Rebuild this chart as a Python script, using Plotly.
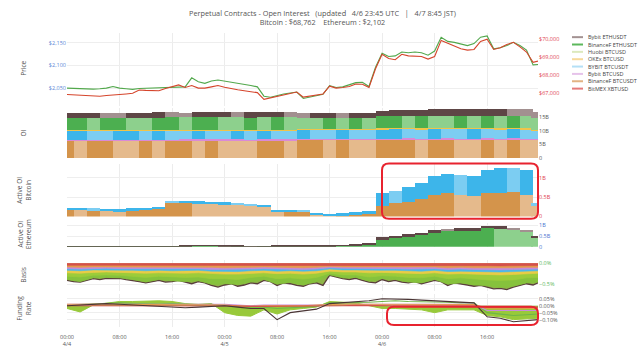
import pandas as pd
import plotly.graph_objects as go

# ---------------- time grids ----------------
START = "2024-04-04 00:00"
END = "2024-04-06 23:45"
hours_1h = [str(t) for t in pd.date_range(START, periods=72, freq="1h")] + [END]
hours_2h = [str(t) for t in pd.date_range(START, periods=36, freq="2h")] + [END]
tick_vals = [str(t) for t in pd.date_range(START, periods=9, freq="8h")]
tick_text = ["00:00<br>4/4", "08:00", "16:00", "00:00<br>4/5", "08:00", "16:00",
             "00:00<br>4/6", "08:00", "16:00"]

# ---------------- price (hourly) ----------------
eth_price = [2050.0, 2049.3, 2048.6, 2047.9, 2047.9, 2048.6, 2050.0, 2053.5, 2050.0, 2048.6,
             2047.2, 2049.3, 2050.0, 2049.3, 2050.0, 2052.1, 2052.8, 2053.5, 2052.8, 2072.7,
             2064.2, 2060.6, 2065.6, 2067.7, 2065.6, 2062.8, 2060.6, 2058.5, 2055.7, 2052.8,
             2032.3, 2030.1, 2034.4, 2037.2, 2039.4, 2041.5, 2027.3, 2030.1, 2034.4, 2036.5,
             2055.7, 2051.4, 2052.8, 2057.1, 2062.1, 2062.8, 2053.5, 2096.1, 2126.6, 2119.5,
             2120.9, 2129.4, 2128.0, 2129.4, 2128.0, 2122.4, 2131.6, 2162.1, 2152.9, 2150.7,
             2147.2, 2143.6, 2147.9, 2162.1, 2164.9, 2136.5, 2138.7, 2143.6, 2150.7, 2143.6,
             2133.7, 2101.1, 2102.0]
btc_price = [66911, 66893, 66875, 66857, 66839, 66821, 66857, 66875, 66911, 66946,
             66982, 67161, 67143, 67125, 67125, 67250, 67339, 67446, 67304, 67411,
             67268, 67268, 67339, 67411, 67321, 67232, 67179, 67125, 67054, 67018,
             66643, 66732, 66804, 66911, 67000, 67054, 66768, 66839, 66911, 66946,
             67375, 67268, 67304, 67357, 67500, 67482, 67304, 68339, 69143, 68911,
             68839, 69143, 69054, 69054, 69018, 68875, 69018, 69911, 69768, 69625,
             69446, 69375, 69411, 69857, 69982, 69411, 69500, 69679, 69804, 69554,
             69268, 68696, 68762]
eth_ticks = [2050, 2100, 2150]
eth_tick_text = ["$2,050", "$2,100", "$2,150"]
btc_ticks = [67000, 68000, 69000, 70000]
btc_tick_text = ["$67,000", "$68,000", "$69,000", "$70,000"]

# ---------------- open interest (billions, 2h) ----------------
oi_binf_btc = [6.3, 6.25, 6.3, 6.35, 6.3, 6.28, 6.32, 6.3, 6.35, 6.4,
               6.38, 6.42, 6.4, 6.38, 6.35, 6.4, 6.42, 6.38, 6.65, 6.7,
               6.68, 6.72, 6.7, 6.68, 6.7, 6.72, 6.75, 6.7, 6.72, 6.75,
               6.72, 6.7, 6.74, 6.72, 6.75, 6.7, 6.5]
oi_bybit_btc = [0.28, 0.28, 0.27, 0.28, 0.29, 0.28, 0.28, 0.27, 0.28, 0.28,
                0.29, 0.28, 0.28, 0.28, 0.27, 0.28, 0.28, 0.28, 0.29, 0.28,
                0.28, 0.28, 0.27, 0.28, 0.28, 0.29, 0.28, 0.28, 0.28, 0.29,
                0.28, 0.28, 0.28, 0.27, 0.28, 0.28, 0.27]
oi_bybit_usdt = [3.27, 3.3, 3.25, 3.22, 3.28, 3.3, 3.25, 3.3, 3.28, 3.25,
                 3.3, 3.28, 3.25, 3.3, 3.27, 3.3, 3.28, 3.25, 3.35, 3.32,
                 3.3, 3.35, 3.32, 3.3, 3.5, 3.55, 3.52, 3.5, 3.55, 3.52,
                 3.5, 3.55, 3.52, 3.5, 3.55, 3.5, 3.3]
oi_okex = [0.22, 0.22, 0.21, 0.22, 0.22, 0.23, 0.22, 0.22, 0.21, 0.22,
           0.22, 0.22, 0.23, 0.22, 0.22, 0.21, 0.22, 0.22, 0.22, 0.23,
           0.22, 0.22, 0.22, 0.21, 0.22, 0.22, 0.23, 0.22, 0.22, 0.22,
           0.21, 0.22, 0.22, 0.22, 0.23, 0.22, 0.2]
oi_binf_eth = [4.6, 4.62, 4.58, 4.6, 4.62, 4.58, 4.55, 4.6, 4.62, 4.58,
               4.6, 4.62, 4.58, 4.55, 4.6, 4.58, 4.62, 4.6, 4.1, 4.08,
               4.12, 4.05, 4.1, 4.08, 4.6, 4.62, 4.58, 4.62, 4.6, 4.58,
               4.62, 4.6, 4.65, 4.6, 4.62, 4.58, 4.3]
oi_bybit_eth = [1.8, 1.82, 1.85, 1.8, 1.78, 1.82, 1.85, 1.88, 1.85, 1.82,
                1.85, 1.88, 1.9, 1.85, 1.88, 1.9, 1.92, 1.88, 1.8, 1.82,
                1.85, 1.8, 1.82, 1.85, 1.95, 2.05, 2.15, 2.2, 2.3, 2.35,
                2.4, 2.45, 2.55, 2.6, 2.55, 2.5, 2.0]

# ---------------- active OI (billions, 2h) ----------------
act_btc_binf = [0.18, 0.17, 0.17, 0.16, 0.15, 0.16, 0.18, 0.2, 0.36, 0.37,
                0.34, 0.33, 0.31, 0.3, 0.29, 0.28, 0.14, 0.14, 0.15, 0.06,
                0.03, 0.04, 0.05, 0.07, 0.29, 0.35, 0.39, 0.46, 0.56, 0.61,
                0.58, 0.55, 0.61, 0.63, 0.65, 0.58, 0.3]
act_btc_bybit = [0.06, 0.06, 0.05, 0.05, 0.05, 0.06, 0.06, 0.06, 0.04, 0.05,
                 0.06, 0.06, 0.07, 0.06, 0.04, 0.04, 0.04, 0.04, 0.03, 0.03,
                 0.04, 0.05, 0.07, 0.07, 0.34, 0.32, 0.39, 0.43, 0.5, 0.51,
                 0.5, 0.51, 0.6, 0.63, 0.61, 0.63, 0.05]
act_eth_binf = [0.03, 0.03, 0.03, 0.03, 0.03, 0.03, 0.03, 0.04, 0.04, 0.05,
                0.06, 0.06, 0.05, 0.05, 0.04, 0.04, 0.05, 0.05, 0.05, 0.05,
                0.05, 0.06, 0.1, 0.12, 0.38, 0.44, 0.5, 0.56, 0.67, 0.74,
                0.76, 0.77, 0.89, 0.86, 0.8, 0.74, 0.44]
act_eth_bybit = [0.01, 0.01, 0.01, 0.01, 0.01, 0.01, 0.01, 0.01, 0.01, 0.01,
                 0.01, 0.01, 0.01, 0.01, 0.01, 0.01, 0.01, 0.01, 0.01, 0.01,
                 0.02, 0.02, 0.03, 0.04, 0.08, 0.08, 0.1, 0.11, 0.15, 0.12,
                 0.12, 0.12, 0.12, 0.13, 0.12, 0.08, 0.08]

# ---------------- basis (%) ----------------
basis_bybit_eth = [-0.41, -0.44, -0.45, -0.41, -0.37, -0.39, -0.36, -0.37, -0.36, -0.39,
                   -0.41, -0.44, -0.47, -0.44, -0.41, -0.45, -0.44, -0.41, -0.45, -0.49,
                   -0.44, -0.47, -0.53, -0.57, -0.52, -0.49, -0.55, -0.52, -0.47, -0.49,
                   -0.41, -0.44, -0.53, -0.47, -0.49, -0.53, -0.55, -0.49, -0.47, -0.53,
                   -0.29, -0.33, -0.37, -0.39, -0.36, -0.41, -0.45, -0.47, -0.39, -0.44,
                   -0.41, -0.45, -0.47, -0.44, -0.49, -0.45, -0.41, -0.44, -0.53, -0.47,
                   -0.49, -0.52, -0.55, -0.53, -0.57, -0.61, -0.6, -0.63, -0.57, -0.53,
                   -0.49, -0.52, -0.47]
basis_binf_eth = [-0.39, -0.44, -0.35, -0.34, -0.35, -0.39, -0.45, -0.39, -0.42, -0.44,
                  -0.42, -0.5, -0.49, -0.51, -0.45, -0.39, -0.5, -0.46, -0.52, -0.45,
                  -0.28, -0.35, -0.34, -0.43, -0.37, -0.39, -0.45, -0.47, -0.39, -0.5,
                  -0.47, -0.52, -0.54, -0.58, -0.55, -0.47, -0.45]
basis_huobi = [-0.31, -0.33, -0.29, -0.28, -0.29, -0.31, -0.34, -0.31, -0.33, -0.34,
               -0.33, -0.37, -0.37, -0.39, -0.34, -0.31, -0.37, -0.35, -0.38, -0.34,
               -0.24, -0.28, -0.28, -0.33, -0.3, -0.31, -0.34, -0.35, -0.31, -0.37,
               -0.35, -0.38, -0.4, -0.41, -0.4, -0.35, -0.34]
basis_okex = [-0.23, -0.24, -0.22, -0.21, -0.22, -0.23, -0.24, -0.23, -0.24, -0.24,
              -0.23, -0.25, -0.26, -0.26, -0.24, -0.23, -0.25, -0.24, -0.26, -0.24,
              -0.19, -0.21, -0.21, -0.23, -0.22, -0.23, -0.24, -0.25, -0.23, -0.26,
              -0.25, -0.26, -0.27, -0.28, -0.27, -0.25, -0.24]
basis_bybit_usdt = [-0.17, -0.18, -0.16, -0.16, -0.16, -0.17, -0.18, -0.17, -0.18, -0.18,
                    -0.17, -0.19, -0.19, -0.2, -0.18, -0.17, -0.19, -0.18, -0.19, -0.18,
                    -0.14, -0.16, -0.16, -0.17, -0.17, -0.17, -0.18, -0.19, -0.17, -0.2,
                    -0.19, -0.2, -0.21, -0.21, -0.2, -0.19, -0.18]
basis_bybit_btc = [-0.13, -0.14, -0.13, -0.12, -0.13, -0.13, -0.14, -0.13, -0.14, -0.14,
                   -0.13, -0.15, -0.15, -0.15, -0.14, -0.13, -0.14, -0.14, -0.15, -0.14,
                   -0.11, -0.12, -0.12, -0.13, -0.13, -0.13, -0.14, -0.14, -0.13, -0.15,
                   -0.14, -0.15, -0.16, -0.16, -0.15, -0.14, -0.14]
basis_binf_btc = [-0.09, -0.1, -0.09, -0.09, -0.09, -0.09, -0.1, -0.09, -0.1, -0.1,
                  -0.09, -0.1, -0.11, -0.11, -0.1, -0.09, -0.1, -0.1, -0.11, -0.1,
                  -0.08, -0.09, -0.09, -0.09, -0.09, -0.09, -0.1, -0.1, -0.09, -0.11,
                  -0.1, -0.11, -0.11, -0.12, -0.11, -0.1, -0.1]
basis_bitmex = [-0.05, -0.055, -0.05, -0.05, -0.05, -0.05, -0.055, -0.05, -0.055, -0.05,
                -0.05, -0.055, -0.06, -0.06, -0.055, -0.05, -0.055, -0.05, -0.06, -0.05,
                -0.045, -0.05, -0.05, -0.05, -0.05, -0.05, -0.055, -0.055, -0.05, -0.06,
                -0.055, -0.06, -0.06, -0.065, -0.06, -0.055, -0.055]
basis_ticks = [0.0, -0.5]
basis_tick_text = ["0.0%", "\u22120.5%"]

# ---------------- funding rate (%) ----------------
fund_huobi = [-0.02, -0.045, 0.005, 0.02, 0.03, 0.03, 0.035, 0.035, 0.03, 0.015,
              0.01, 0.015, -0.05, -0.07, -0.075, -0.03, -0.06, -0.03, -0.02, -0.01,
              0.03, 0.025, 0.02, 0.0, -0.02, -0.02, -0.025, -0.03, -0.05, -0.03,
              -0.03, -0.03, -0.07, -0.08, -0.1, -0.095, -0.09]
fund_bybit_eth = [0.0, 0.005, 0.01, 0.015, 0.01, 0.005, -0.005, -0.01, -0.01, -0.015,
                  -0.01, -0.005, 0.0, -0.01, -0.02, -0.02, -0.1, -0.05, -0.035, -0.025,
                  0.015, 0.02, 0.025, 0.035, 0.05, 0.05, 0.045, 0.04, 0.035, 0.03,
                  0.025, 0.02, -0.08, -0.09, -0.115, -0.105, -0.1]
fund_binf_eth = [0.005, 0.01, 0.015, 0.02, 0.02, 0.015, 0.01, 0.01, 0.015, 0.01,
                 0.005, 0.01, 0.0, -0.005, -0.01, -0.01, -0.02, -0.015, -0.01, -0.005,
                 0.02, 0.02, 0.02, 0.025, 0.03, 0.035, 0.03, 0.03, 0.025, 0.025,
                 0.02, 0.02, -0.05, -0.06, -0.07, -0.065, -0.06]
fund_bybit_btc = [0.01, 0.01, 0.012, 0.01, 0.01, 0.008, 0.01, 0.01, 0.012, 0.01,
                  0.008, 0.01, 0.01, 0.005, 0.0, 0.005, 0.005, 0.0, 0.0, 0.005,
                  0.01, 0.01, 0.012, 0.01, 0.01, 0.01, 0.012, 0.01, 0.008, 0.01,
                  0.01, 0.01, -0.035, -0.035, -0.04, -0.035, -0.035]
fund_binf_btc = [0.01, 0.008, 0.01, 0.01, 0.01, 0.01, 0.01, 0.01, 0.01, 0.008,
                 0.01, 0.008, 0.005, 0.0, -0.005, 0.0, 0.0, -0.005, 0.0, 0.005,
                 0.01, 0.01, 0.01, 0.01, 0.01, 0.01, 0.01, 0.01, 0.01, 0.008,
                 0.01, 0.008, -0.02, -0.025, -0.025, -0.02, -0.02]
fund_bitmex = [0.0, 0.0, 0.002, 0.0, 0.0, 0.0, 0.0, 0.0, 0.0, 0.0,
               0.0, 0.0, 0.0, -0.002, -0.005, -0.005, -0.005, -0.005, -0.005, 0.0,
               0.0, 0.0, 0.002, 0.0, 0.0, 0.0, 0.0, 0.0, 0.0, 0.0,
               0.0, 0.0, -0.01, -0.012, -0.01, -0.01, -0.01]
fund_ticks = [0.05, 0.0, -0.05, -0.10]
fund_tick_text = ["0.05%", "0.00%", "\u22120.05%", "\u22120.10%"]

legend_names = ["Bybit ETHUSDT", "BinanceF ETHUSDT", "Huobi BTCUSD", "OKEx BTCUSD",
                "BYBIT BTCUSDT", "Bybit BTCUSD", "BinanceF BTCUSDT", "BitMEX XBTUSD"]

# ---------------- styling ----------------
C = {
    "brown": ("#5e4646", "#a29090"),
    "green": ("#4caf50", "#8dd08d"),
    "blue": ("#3db5ea", "#7ccdf2"),
    "tan": ("#d4944b", "#e5ba8c"),
}
legend_colors = ["#a39292", "#5cb85c", "#dce9bd", "#f7d99a", "#b5e0f6", "#e6c3ea", "#e2b383", "#e57b7b"]

L, R, T, B = 67, 538, 33, 337
W, H = R - L, B - T


def px(x):
    return (x - L) / W


def py(y):
    return (B - y) / H


def shade(vals, pair):
    dark, light = pair
    return [dark if i == 0 or v >= vals[i - 1] else light for i, v in enumerate(vals)]


BARW = 2 * 3600 * 1000

fig = go.Figure()

# Price
fig.add_trace(go.Scatter(x=hours_1h, y=eth_price, xaxis="x", yaxis="y", mode="lines",
                         line=dict(color="#52a84c", width=1.1)))
fig.add_trace(go.Scatter(x=hours_1h, y=btc_price, xaxis="x", yaxis="y7", mode="lines",
                         line=dict(color="#d5452c", width=1.1)))

# OI stacked bars
for vals, col in [(oi_binf_btc, shade(oi_binf_btc, C["tan"])),
                  (oi_bybit_btc, "#d98ad6"),
                  (oi_bybit_usdt, shade(oi_bybit_usdt, C["blue"])),
                  (oi_okex, "#f0c44a"),
                  (oi_binf_eth, shade(oi_binf_eth, C["green"])),
                  (oi_bybit_eth, shade(oi_bybit_eth, C["brown"]))]:
    fig.add_trace(go.Bar(x=hours_2h, y=vals, xaxis="x2", yaxis="y2", width=BARW,
                         marker=dict(color=col, line=dict(width=0))))

# Active OI Bitcoin
for vals, pair in [(act_btc_binf, C["tan"]), (act_btc_bybit, C["blue"])]:
    fig.add_trace(go.Bar(x=hours_2h, y=vals, xaxis="x3", yaxis="y3", width=BARW,
                         marker=dict(color=shade(vals, pair), line=dict(width=0))))

# Active OI Ethereum
for vals, pair in [(act_eth_binf, C["green"]), (act_eth_bybit, C["brown"])]:
    fig.add_trace(go.Bar(x=hours_2h, y=vals, xaxis="x4", yaxis="y4", width=BARW,
                         marker=dict(color=shade(vals, pair), line=dict(width=0))))

# Basis (filled to zero, most negative first)
basis_layers = [(hours_2h, basis_binf_eth, "#86c23c"),
                (hours_2h, basis_huobi, "#9ccc3a"),
                (hours_2h, basis_okex, "#e9cc47"),
                (hours_2h, basis_bybit_usdt, "#4bb8ea"),
                (hours_2h, basis_bybit_btc, "#c98ad8"),
                (hours_2h, basis_binf_btc, "#e59a4c"),
                (hours_2h, basis_bitmex, "#d4504c")]
fig.add_trace(go.Scatter(x=hours_1h, y=basis_bybit_eth, xaxis="x5", yaxis="y5", mode="lines",
                         fill="tozeroy", fillcolor="#8fb548",
                         line=dict(color="#5a3d3d", width=1.3)))
for xs, vals, col in basis_layers:
    fig.add_trace(go.Scatter(x=xs, y=vals, xaxis="x5", yaxis="y5", mode="lines",
                             fill="tozeroy", fillcolor=col, line=dict(color=col, width=0.6)))

# Funding
fig.add_trace(go.Scatter(x=hours_2h, y=fund_huobi, xaxis="x6", yaxis="y6", mode="lines",
                         fill="tozeroy", fillcolor="#98c93a", line=dict(color="#98c93a", width=1)))
for vals, col in [(fund_binf_eth, "#6fb548"), (fund_bybit_btc, "#c98ad8"),
                  (fund_binf_btc, "#e59a4c"), (fund_bitmex, "#d4504c"),
                  (fund_bybit_eth, "#4a3535")]:
    fig.add_trace(go.Scatter(x=hours_2h, y=vals, xaxis="x6", yaxis="y6", mode="lines",
                             line=dict(color=col, width=1.1)))

# ---------------- layout ----------------
common_x = dict(type="date", range=[START, END], tickmode="array", tickvals=tick_vals,
                showgrid=True, gridcolor="#ececec", gridwidth=1, zeroline=False,
                showline=False, ticks="", domain=[0, 1])
tickfont = dict(size=5.5, color="#555")


def yax(lo, hi, rng, tv, tt, color="#555", side="right", grid=True, anchor="x"):
    return dict(domain=[py(lo), py(hi)], range=rng, tickmode="array", tickvals=tv, ticktext=tt,
                side=side, tickfont=dict(size=5.5, color=color), showgrid=grid,
                gridcolor="#eeeeee", zeroline=False, showline=False, ticks="", anchor=anchor)


layout = dict(
    width=640, height=360,
    margin=dict(l=L, r=640 - R, t=T, b=360 - B),
    paper_bgcolor="white", plot_bgcolor="white",
    showlegend=False, barmode="stack", bargap=0,
    font=dict(family="Open Sans", color="#555"),
    xaxis=dict(common_x, anchor="y", showticklabels=False),
    xaxis2=dict(common_x, anchor="y2", showticklabels=False),
    xaxis3=dict(common_x, anchor="y3", showticklabels=False),
    xaxis4=dict(common_x, anchor="y4", showticklabels=False),
    xaxis5=dict(common_x, anchor="y5", showticklabels=False),
    xaxis6=dict(common_x, anchor="y6", ticktext=tick_text, tickfont=tickfont, ticklabelstandoff=5),
    yaxis=yax(108, 33, [2011.7, 2171.3], eth_ticks, eth_tick_text, color="#5b86d6", side="left"),
    yaxis7=dict(overlaying="y", side="right", range=[66304, 70321], tickmode="array",
                tickvals=btc_ticks, ticktext=btc_tick_text, tickfont=dict(size=5.5, color="#e0424f"),
                showgrid=False, zeroline=False, showline=False, ticks="", anchor="x"),
    yaxis2=yax(162.3, 111, [0, 18.2], [0, 5, 10, 15], ["0", "5B", "10B", "15B"], anchor="x2"),
    yaxis3=yax(222.7, 168, [0, 1.37], [0, 0.5, 1], ["0", "0.5B", "1B"], color="#e0424f", anchor="x3"),
    yaxis4=yax(254, 229, [0, 1.136], [0, 0.5, 1], ["0", "0.5B", "1B"], color="#4a73d0", anchor="x4"),
    yaxis5=yax(300, 268, [-0.668, 0.069], basis_ticks, basis_tick_text, color="#5cb85c", anchor="x5"),
    yaxis6=yax(337, 303, [-0.153, 0.083], fund_ticks, fund_tick_text, anchor="x6"),
)
fig.update_layout(**layout)

# title
fig.add_annotation(xref="paper", yref="paper", x=px(322), y=py(17), showarrow=False,
                   text="Perpetual Contracts - Open Interest \u00a0\u00a0(updated \u00a0\u00a04/6 23:45 UTC "
                        "\u00a0\u00a0| \u00a0\u00a04/7 8:45 JST)<br>Bitcoin : $68,762 \u00a0\u00a0\u00a0Ethereum : $2,102",
                   font=dict(size=7.3, color="#555"), xanchor="center", yanchor="middle")

# panel labels
for label, yc in [("Price", 70), ("OI", 137), ("Active OI<br>Bitcoin", 196),
                  ("Active OI<br>Ethereum", 241), ("Basis", 283), ("Funding<br>Rate", 318)]:
    fig.add_annotation(xref="paper", yref="paper", x=px(24), y=py(yc), text=label,
                       showarrow=False, textangle=-90, font=dict(size=6.5, color="#555"),
                       xanchor="center", yanchor="middle")

# manual legend
shapes = []
for i, (name, col) in enumerate(zip(legend_names, legend_colors)):
    yy = 37.3 + 7.6 * i
    shapes.append(dict(type="line", xref="paper", yref="paper", x0=px(572), x1=px(583),
                       y0=py(yy), y1=py(yy), line=dict(color=col, width=2)))
    fig.add_annotation(xref="paper", yref="paper", x=px(586), y=py(yy), text=name,
                       showarrow=False, xanchor="left", yanchor="middle",
                       font=dict(size=5.5, color="#444"))


def rrect(x0, y0, x1, y1, r):
    pts = [("M", x0 + r, y0), ("L", x1 - r, y0), ("Q", x1, y0, x1, y0 + r),
           ("L", x1, y1 - r), ("Q", x1, y1, x1 - r, y1), ("L", x0 + r, y1),
           ("Q", x0, y1, x0, y1 - r), ("L", x0, y0 + r), ("Q", x0, y0, x0 + r, y0)]
    out = []
    for p in pts:
        cmd, coords = p[0], p[1:]
        xy = []
        for j in range(0, len(coords), 2):
            xy.append(f"{px(coords[j]):.5f},{py(coords[j + 1]):.5f}")
        out.append(cmd + " " + " ".join(xy))
    return " ".join(out) + " Z"


for box in [(382, 168, 538, 225), (387, 316, 538, 335)]:
    shapes.append(dict(type="path", xref="paper", yref="paper", path=rrect(*box, 7),
                       line=dict(color="#e8232f", width=2)))

fig.update_layout(shapes=shapes)

fig.write_html("out.html", config={"displayModeBar": False},
               post_script="document.body.style.margin='0';document.body.style.overflow='hidden';")
